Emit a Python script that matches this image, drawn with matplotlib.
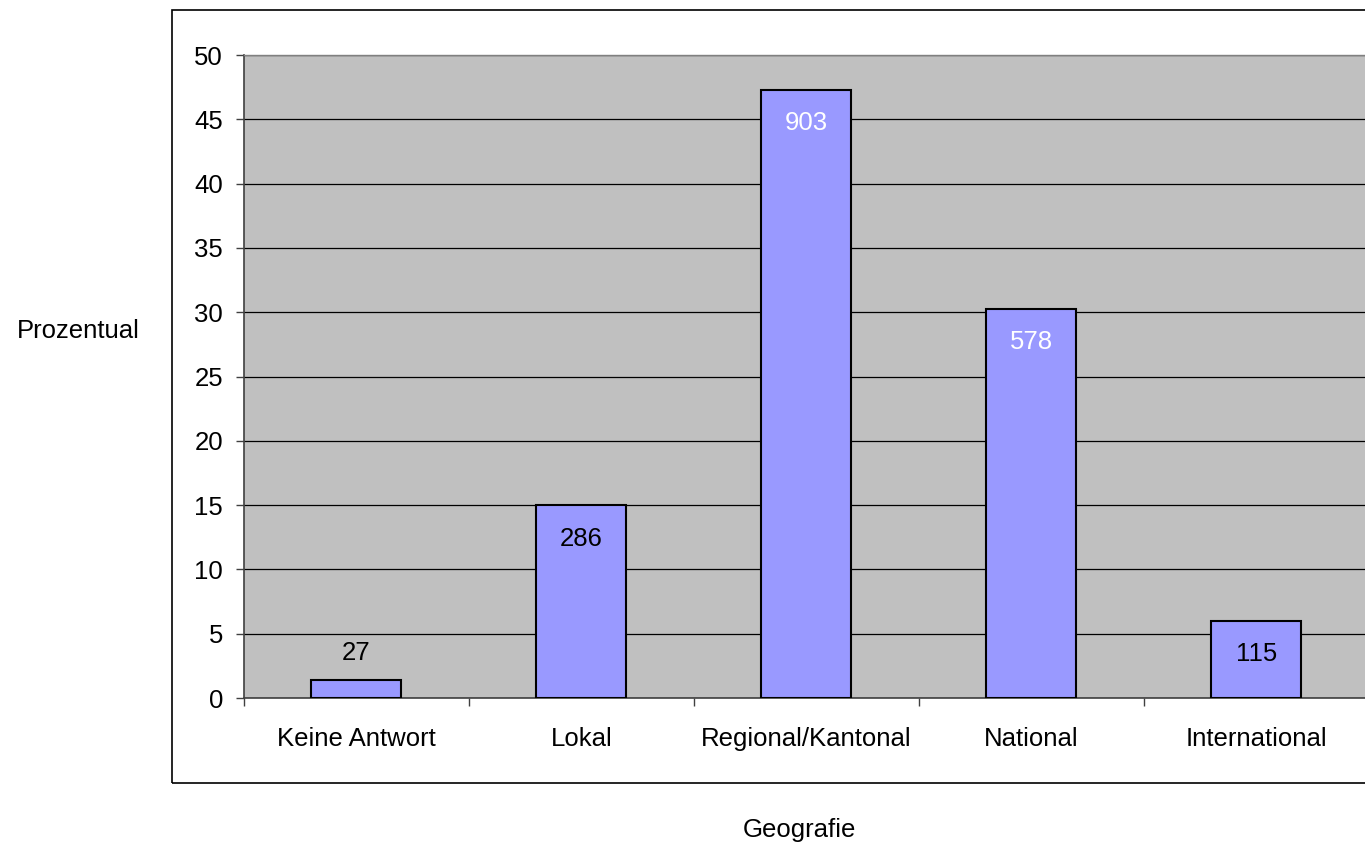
import matplotlib
matplotlib.use("Agg")
import matplotlib.pyplot as plt
from matplotlib.patches import Rectangle
import numpy as np

categories = ["Keine Antwort", "Lokal", "Regional/Kantonal", "National", "International"]
counts = [27, 286, 903, 578, 115]
percent = [1.41, 14.98, 47.30, 30.28, 6.02]
label_colors = ["black", "black", "white", "white", "black"]
yticks = [0, 5, 10, 15, 20, 25, 30, 35, 40, 45, 50]

plt.rcParams['font.family'] = ['Liberation Sans', 'DejaVu Sans']
FS = 18.5

W, H = 1365, 846
fig = plt.figure(figsize=(W / 100, H / 100), dpi=100)

# outer chart-area border
fig.patches.append(Rectangle((172 / W, 1 - 783 / H), 1.2, (783 - 10) / H,
                             transform=fig.transFigure, fill=False,
                             edgecolor='black', linewidth=1.2, clip_on=False))

ax = fig.add_axes([244 / W, 1 - 698 / H, (1368.75 - 244) / W, (698 - 55) / H])
ax.set_facecolor('#C0C0C0')
x = np.arange(len(categories))
ax.set_xlim(-0.5, len(categories) - 0.5)
ax.set_ylim(0, 50)

ax.set_yticks(yticks)
ax.yaxis.grid(True, color='black', linewidth=0.9)
ax.set_axisbelow(True)

bars = ax.bar(x, percent, width=0.4, color='#9999FF', edgecolor='black',
              linewidth=1.5, zorder=3)

for xi, p, c, col in zip(x, percent, counts, label_colors):
    if p < 3:
        ax.annotate(str(c), (xi, p), xytext=(0, 19), textcoords='offset points',
                    ha='center', va='center', fontsize=FS, color=col, zorder=4)
    else:
        ax.annotate(str(c), (xi, p), xytext=(0, -24), textcoords='offset points',
                    ha='center', va='center', fontsize=FS, color=col, zorder=4)

ax.set_xticks(np.arange(-0.5, len(categories) + 0.5, 1.0))
ax.set_xticklabels([])
ax.set_xticks(x, minor=True)
ax.set_xticklabels(categories, minor=True)
ax.tick_params(axis='x', which='minor', length=0, pad=21, labelsize=FS)
ax.tick_params(axis='x', which='major', length=6, width=1, color='#404040', direction='out')
ax.tick_params(axis='y', length=6, width=1, color='#404040', direction='out',
               labelsize=FS, pad=9)

for s in ['left', 'bottom']:
    ax.spines[s].set_color('#404040')
    ax.spines[s].set_linewidth(1.2)
for s in ['top', 'right']:
    ax.spines[s].set_color('#808080')
    ax.spines[s].set_linewidth(1.0)

fig.text(78 / W, 1 - 331 / H, "Prozentual", ha='center', va='center', fontsize=FS)
fig.text(799 / W, 1 - 830 / H, "Geografie", ha='center', va='center', fontsize=FS)

fig.savefig("out.png", dpi=100)
